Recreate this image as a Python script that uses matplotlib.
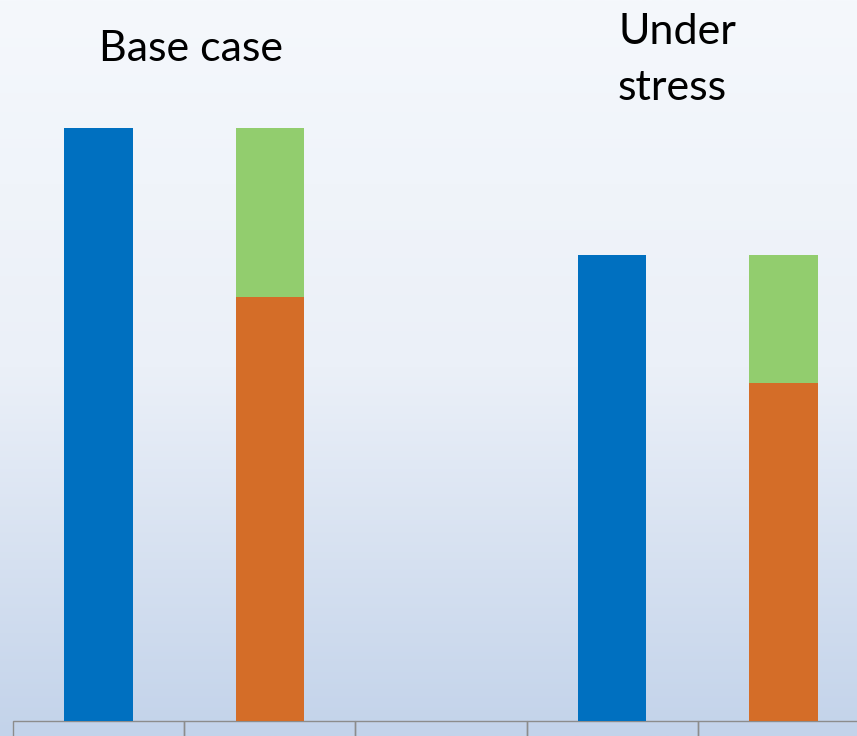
import numpy as np
import matplotlib
matplotlib.use('Agg')
import matplotlib.pyplot as plt
from matplotlib.colors import LinearSegmentedColormap

# five columns in the table strip, the middle one is an empty spacer
columns = ['', '', '', '', '']
total = [100.0, 0.0, 0.0, 78.6, 0.0]      # blue bars
core = [0.0, 71.5, 0.0, 0.0, 57.0]        # orange part
buffer = [0.0, 28.5, 0.0, 0.0, 21.6]      # green part on top
group_titles = ['Base case', 'Under', 'stress']

BLUE = '#0070C0'
ORANGE = '#D46D28'
GREEN = '#92CD6E'

fig = plt.figure(figsize=(8.57, 7.36), dpi=100)

# background gradient, light at top, blue-grey at bottom
bg = fig.add_axes([0, 0, 1, 1], zorder=0)
grad = np.linspace(0, 1, 256).reshape(-1, 1)
cmap = LinearSegmentedColormap.from_list('bg', ['#F5F8FC', '#EBF0F8', '#C3D3EA'])
bg.imshow(grad, aspect='auto', cmap=cmap, extent=[0, 1, 0, 1], origin='upper')
bg.set_axis_off()

ax = fig.add_axes([13 / 857, 15.5 / 736, 856 / 857, 720.5 / 736], zorder=1)
ax.patch.set_alpha(0)
x = np.arange(len(columns))
w = 0.4
ax.bar(x, total, w, color=BLUE, linewidth=0)
ax.bar(x, core, w, color=ORANGE, linewidth=0)
ax.bar(x, buffer, w, bottom=core, color=GREEN, linewidth=0)
ax.set_xlim(-0.5, len(columns) - 0.5)
ax.set_ylim(0, 121.6)
ax.set_axis_off()

# table strip under the bars
tbl = ax.table(cellText=[columns], bbox=[0, -0.05, 1, 0.05])
for cell in tbl.get_celld().values():
    cell.set_edgecolor('#8C8C8C')
    cell.set_facecolor('none')
    cell.set_linewidth(1.0)
    cell.set_clip_on(False)

fig.text(191 / 857, 1 - 61 / 736, group_titles[0], fontsize=31, family='Lato',
         ha='center', va='baseline', color='black')
fig.text(618 / 857, 1 - 44 / 736, group_titles[1], fontsize=31, family='Lato',
         ha='left', va='baseline', color='black')
fig.text(618 / 857, 1 - 100 / 736, group_titles[2], fontsize=31, family='Lato',
         ha='left', va='baseline', color='black')

fig.savefig('out.png', dpi=100)
